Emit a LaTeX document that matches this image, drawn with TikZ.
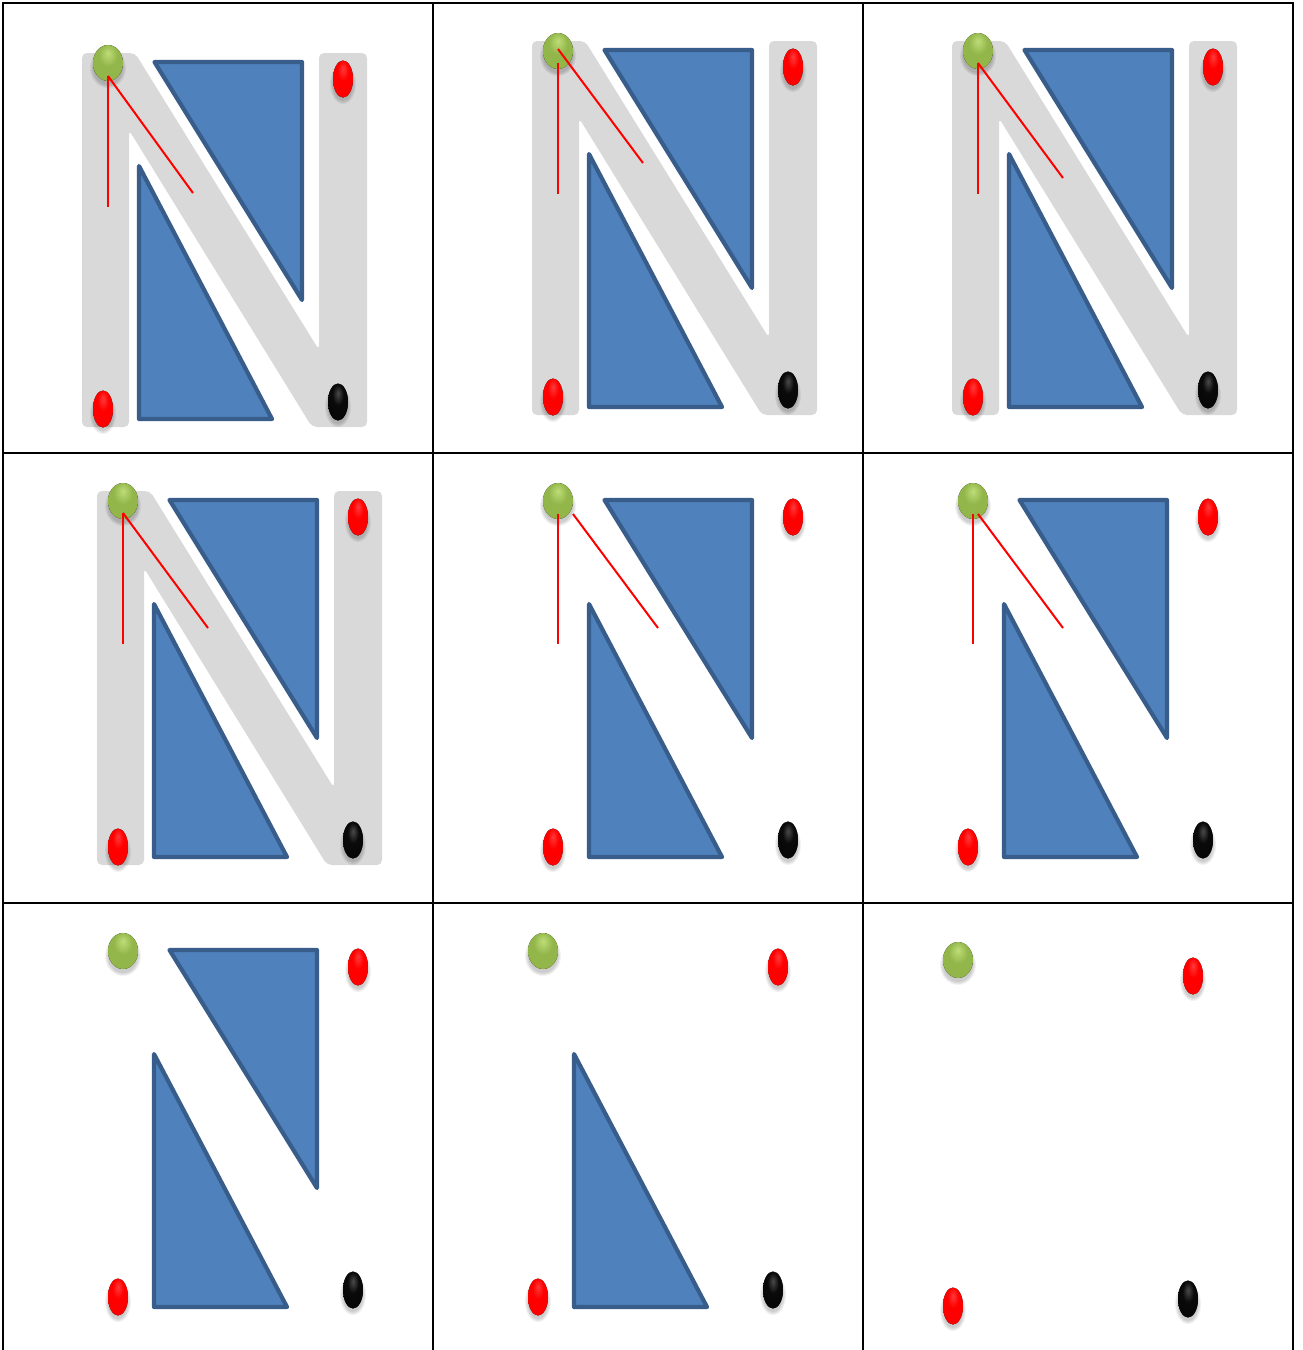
\documentclass[tikz,border=0pt]{standalone}
\definecolor{ngray}{HTML}{D9D9D9}
\definecolor{nblue}{HTML}{4F81BD}
\definecolor{nblueline}{HTML}{385D8A}
\definecolor{gLight}{HTML}{BEDD78}
\definecolor{gMid}{HTML}{92B64A}
\definecolor{gDark}{HTML}{66862E}
\definecolor{rLight}{HTML}{FF3A3A}
\definecolor{rMid}{HTML}{FF0000}
\definecolor{rDark}{HTML}{C00000}
\definecolor{kLight}{HTML}{4A4A4A}
\definecolor{kMid}{HTML}{0A0A0A}
\definecolor{kDark}{HTML}{000000}
\pgfdeclareradialshading{greenball}{\pgfpoint{0bp}{14bp}}{color(0bp)=(gLight); color(16bp)=(gMid); color(42bp)=(gMid); color(60bp)=(gDark); color(75bp)=(gDark)}
\pgfdeclareradialshading{redball}{\pgfpoint{0bp}{14bp}}{color(0bp)=(rLight); color(14bp)=(rMid); color(42bp)=(rMid); color(60bp)=(rDark); color(75bp)=(rDark)}
\pgfdeclareradialshading{blackball}{\pgfpoint{0bp}{12bp}}{color(0bp)=(kLight); color(14bp)=(kMid); color(60bp)=(kDark); color(75bp)=(kDark)}
\tikzset{
  tri/.style={fill=nblue,draw=nblueline,line width=4.2pt,line join=round},
  redline/.style={draw=red,line width=2pt},
  gridline/.style={draw=black,line width=2.5pt}
}
\newcommand\dropshadow[4]{%
  \foreach \k in {0,1,2,3}{\fill[black,opacity=0.05] (#1,#2+5) ellipse ({#3+3-\k pt} and {#4+2-\k pt});}}
\newcommand\gball[2]{\dropshadow{#1}{#2}{15}{18}\fill[shading=greenball] (#1,#2) ellipse (15pt and 18pt);}
\newcommand\rdot[2]{\dropshadow{#1}{#2}{10}{18}\fill[shading=redball] (#1,#2) ellipse (10pt and 18.5pt);}
\newcommand\kdot[2]{\dropshadow{#1}{#2}{10}{18}\fill[shading=blackball] (#1,#2) ellipse (10pt and 18.5pt);}
\newcommand\grayN{\fill[ngray,rounded corners=5pt] (82,53) -- (135,53) -- (319,350) -- (319,53) -- (367,53) -- (367,427) -- (312,427) -- (129,130) -- (129,427) -- (82,427) -- cycle;}
\newcommand\upperTri{\filldraw[tri] (154.5,62) -- (302,62) -- (302,300) -- cycle;}
\newcommand\lowerTri{\filldraw[tri] (139,166) -- (139,419) -- (272,419) -- cycle;}
\newcommand\alldots{\gball{108}{63}\rdot{343}{79}\rdot{103}{409}\kdot{338}{402}}
\begin{document}
\begin{tikzpicture}[x=1pt,y=-1pt]
\useasboundingbox (0,0) rectangle (1303,1350);
\fill[white] (0,0) rectangle (1303,1350);
% cell 1
\begin{scope}[shift={(0,0)}]\grayN\upperTri\lowerTri\alldots\end{scope}
% cell 2
\begin{scope}[shift={(450,-12)}]\grayN\upperTri\lowerTri\alldots\end{scope}
% cell 3
\begin{scope}[shift={(870,-12)}]\grayN\upperTri\lowerTri\alldots\end{scope}
% cell 4
\begin{scope}[shift={(15,438)}]\grayN\upperTri\lowerTri\alldots\end{scope}
% cell 5
\begin{scope}[shift={(450,438)}]\upperTri\lowerTri\alldots\end{scope}
% cell 6
\begin{scope}[shift={(865,438)}]\upperTri\lowerTri\alldots\end{scope}
% cell 7
\begin{scope}[shift={(15,888)}]\upperTri\lowerTri\alldots\end{scope}
% cell 8
\begin{scope}[shift={(435,888)}]\lowerTri\alldots\end{scope}
% cell 9
\begin{scope}[shift={(850,897)}]\alldots\end{scope}
% red guide lines
\coordinate (s1) at (108,76);
\draw[redline] (s1) -- (108,207); \draw[redline] (s1) -- (193,193);
\coordinate (s2a) at (558,63); \coordinate (s2b) at (558,49);
\draw[redline] (s2a) -- (558,194); \draw[redline] (s2b) -- (643,163);
\coordinate (s3) at (978,63);
\draw[redline] (s3) -- (978,194); \draw[redline] (s3) -- (1063,178);
\coordinate (s4) at (123,513);
\draw[redline] (s4) -- (123,644); \draw[redline] (s4) -- (208,628);
\coordinate (s5a) at (558,514); \coordinate (s5b) at (573,514);
\draw[redline] (s5a) -- (558,644); \draw[redline] (s5b) -- (658,628);
\coordinate (s6a) at (973,514); \coordinate (s6b) at (978,514);
\draw[redline] (s6a) -- (973,644); \draw[redline] (s6b) -- (1063,628);
% grid
\draw[gridline] (3,3) -- (1293,3);
\draw[gridline] (3,453) -- (1293,453);
\draw[gridline] (3,903) -- (1293,903);
\foreach \xx in {3,433,863,1293}{\draw[gridline] (\xx,2) -- (\xx,1350);}
\end{tikzpicture}
\end{document}
